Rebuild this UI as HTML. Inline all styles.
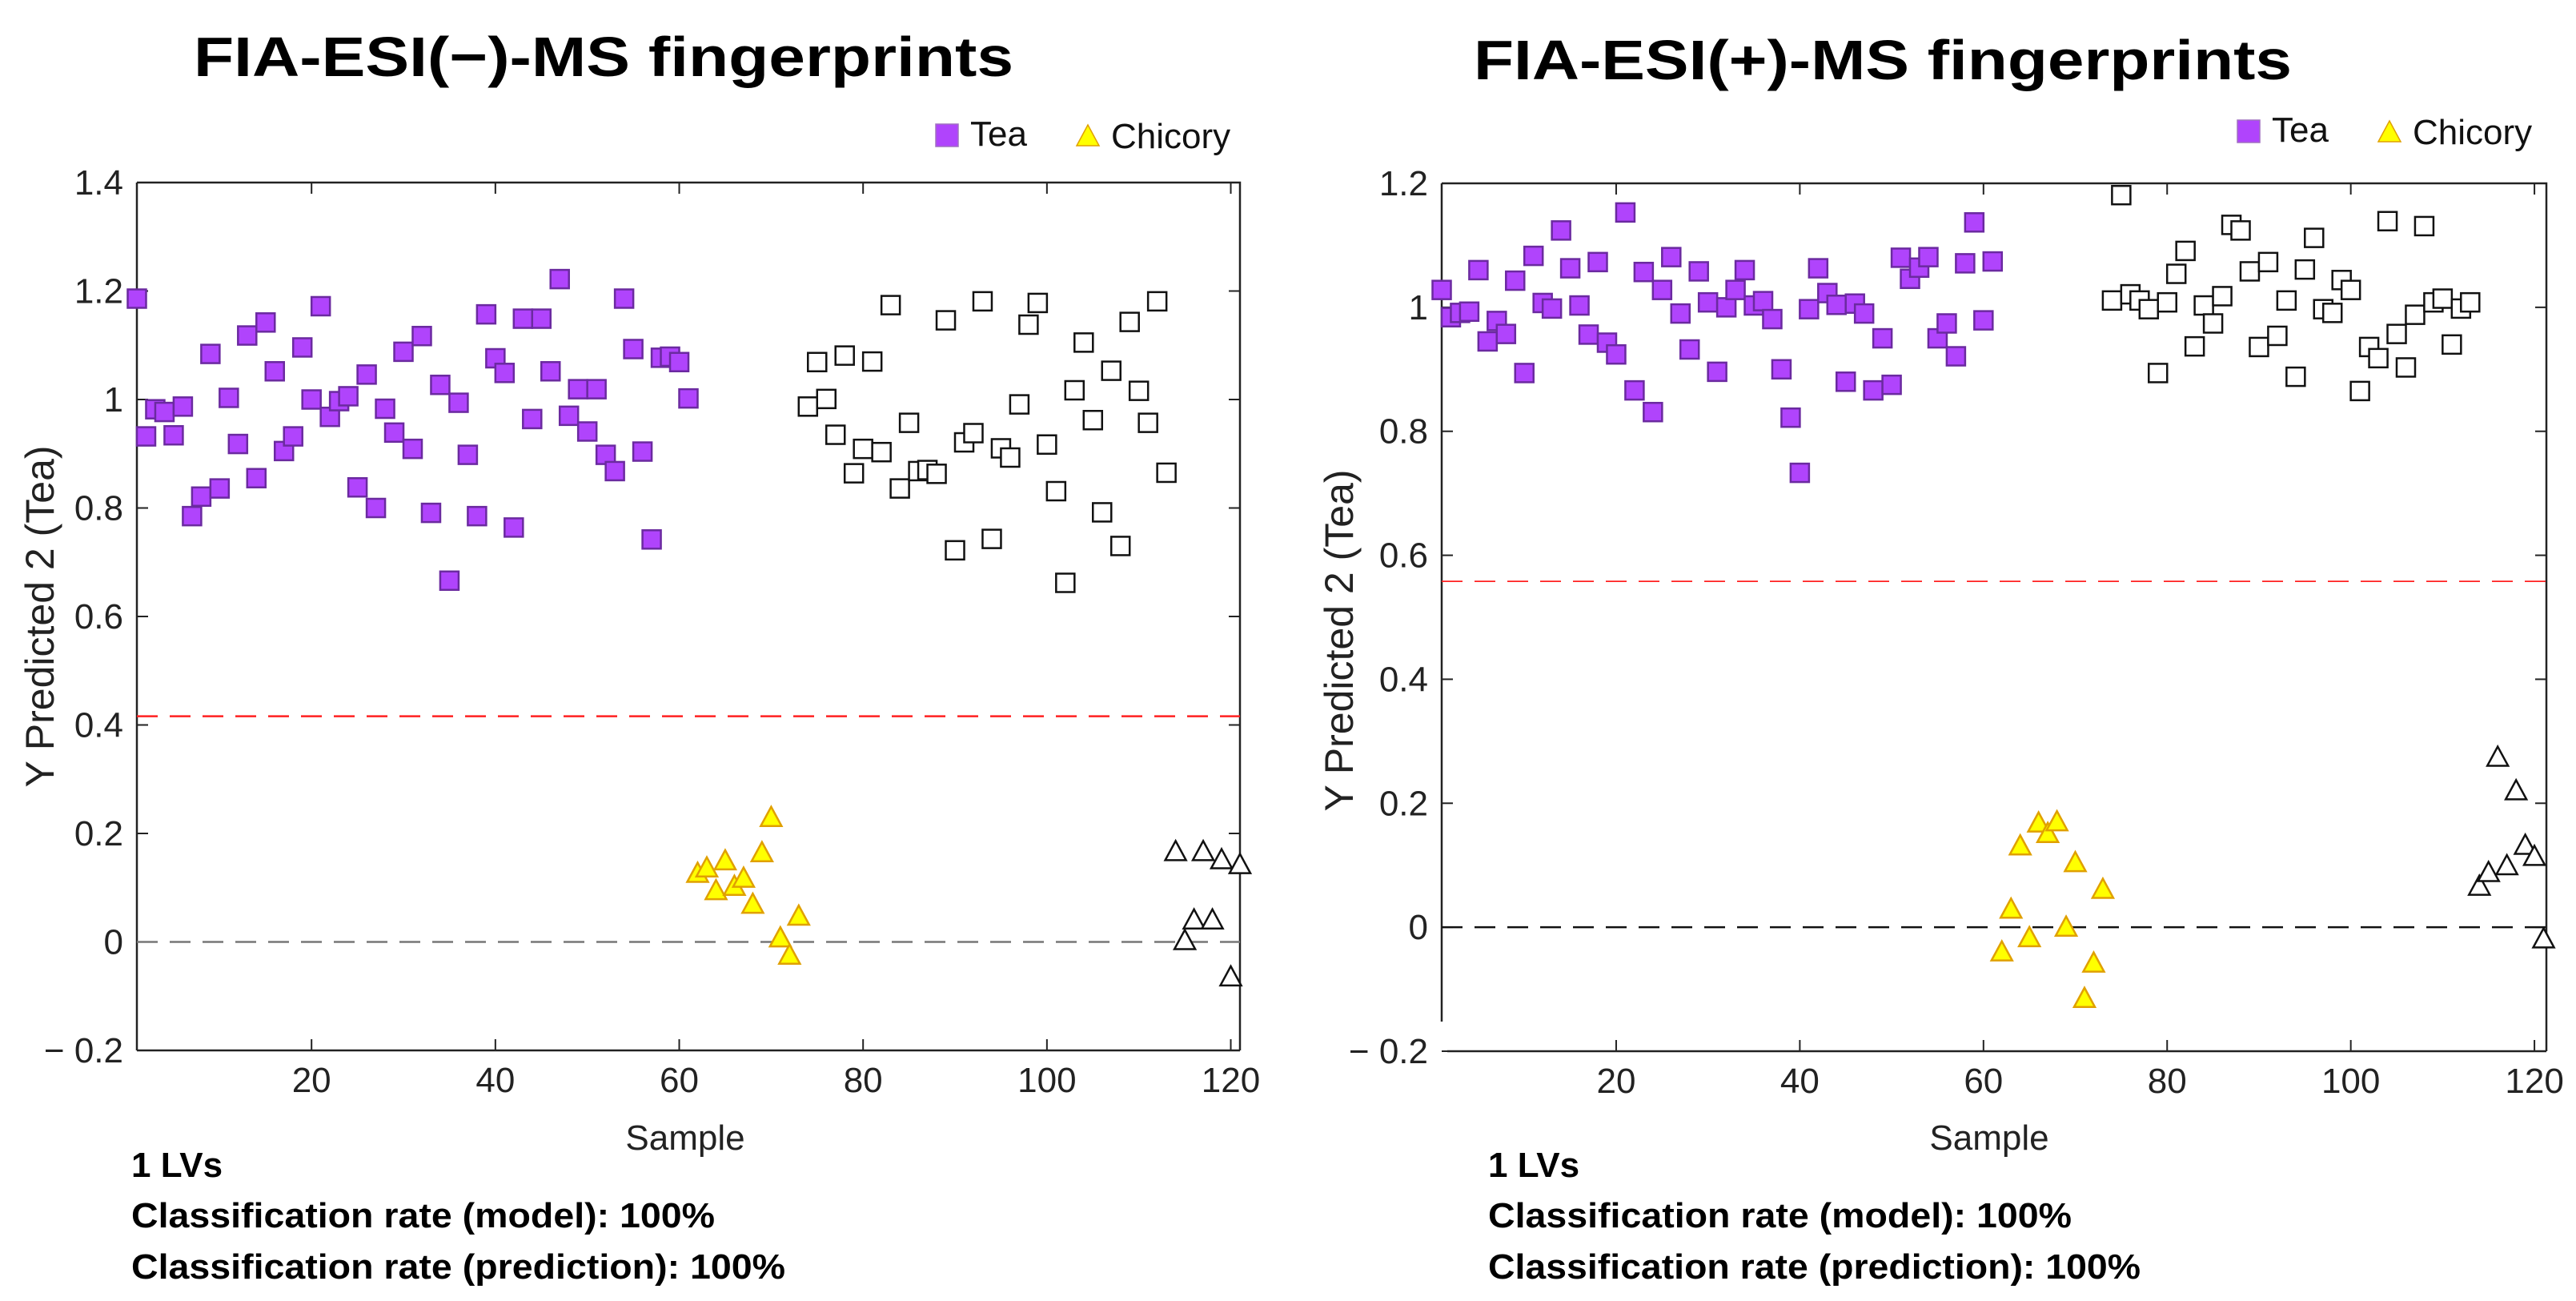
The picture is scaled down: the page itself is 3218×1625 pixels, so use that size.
<!DOCTYPE html>
<html><head><meta charset="utf-8"><style>
html,body{margin:0;padding:0;background:#fff;}
svg{display:block;}
text{font-family:"Liberation Sans",sans-serif;}
.tick{font-family:"Liberation Sans Narrow","Liberation Sans",sans-serif;font-size:44px;fill:#222;}
.bold{font-weight:bold;}
</style></head><body>
<svg id="chart" width="3218" height="1625" viewBox="0 0 3218 1625" xmlns="http://www.w3.org/2000/svg">
<text x="242" y="95" class="bold" font-size="70" textLength="1024" lengthAdjust="spacingAndGlyphs">FIA-ESI(−)-MS fingerprints</text>
<text x="1841" y="99" class="bold" font-size="70" textLength="1022" lengthAdjust="spacingAndGlyphs">FIA-ESI(+)-MS fingerprints</text>
<g id="left"></g>
<g id="right"></g>
<g class="bold" font-size="44">
<text x="164" y="1470">1 LVs</text>
<text x="164" y="1533" textLength="729" lengthAdjust="spacingAndGlyphs">Classification rate (model): 100%</text>
<text x="164" y="1597" textLength="817" lengthAdjust="spacingAndGlyphs">Classification rate (prediction): 100%</text>
</g>
<g class="bold" font-size="44">
<text x="1859" y="1470">1 LVs</text>
<text x="1859" y="1533" textLength="729" lengthAdjust="spacingAndGlyphs">Classification rate (model): 100%</text>
<text x="1859" y="1597" textLength="815" lengthAdjust="spacingAndGlyphs">Classification rate (prediction): 100%</text>
</g>
</svg>
<script>
// ---- data (sample numbers are sequential: tea-train 1..61, chicory-train 62..73, tea-test 74..113, chicory-test 114..121)
const leftTeaTrain = [1.186,0.932,0.982,0.977,0.934,0.987,0.785,0.821,1.084,0.836,1.003,0.918,1.118,0.855,1.142,1.052,0.905,0.932,1.096,1.0,1.172,0.968,0.997,1.006,0.838,1.046,0.8,0.983,0.939,1.088,0.909,1.117,0.791,1.027,0.666,0.994,0.898,0.785,1.157,1.076,1.049,0.764,1.149,0.964,1.149,1.052,1.222,0.97,1.019,0.941,1.019,0.898,0.868,1.186,1.093,0.904,0.742,1.077,1.079,1.069,1.002];
const leftChicTrain = [0.124,0.134,0.092,0.147,0.1,0.115,0.067,0.162,0.227,0.005,-0.027,0.045];
const leftTeaTest = [0.987,1.069,1.001,0.935,1.081,0.864,0.909,1.07,0.903,1.174,0.836,0.957,0.868,0.87,0.863,1.146,0.722,0.921,0.938,1.181,0.743,0.91,0.893,0.991,1.138,1.178,0.917,0.831,0.662,1.017,1.105,0.962,0.792,1.053,0.73,1.143,1.016,0.957,1.181,0.865];
const leftChicTest = [0.164,0.0,0.038,0.164,0.038,0.149,-0.067,0.14];
const leftThreshold = 0.416;
const leftYTicks = [1.4,1.2,1,0.8,0.6,0.4,0.2,0,-0.2];
const leftYTickLabels = ["1.4","1.2","1","0.8","0.6","0.4","0.2","0","− 0.2"];

const rightTeaTrain = [1.028,0.984,0.991,0.993,1.06,0.945,0.978,0.957,1.043,0.894,1.083,1.007,0.998,1.124,1.063,1.003,0.956,1.073,0.943,0.924,1.153,0.866,1.057,0.831,1.028,1.081,0.99,0.932,1.058,1.008,0.896,1.0,1.028,1.06,1.003,1.01,0.981,0.9,0.822,0.733,0.997,1.063,1.023,1.004,0.88,1.006,0.99,0.866,0.95,0.875,1.08,1.046,1.064,1.081,0.95,0.974,0.921,1.071,1.137,0.979,1.074];
const rightChicTrain = [-0.042,0.027,0.129,-0.019,0.166,0.149,0.168,-0.002,0.102,-0.117,-0.06,0.059];
const rightTeaTest = [1.011,1.181,1.021,1.011,0.997,0.894,1.008,1.054,1.091,0.937,1.003,0.974,1.018,1.133,1.124,1.058,0.936,1.073,0.954,1.011,0.888,1.061,1.112,0.997,0.991,1.044,1.028,0.865,0.936,0.918,1.139,0.957,0.903,0.988,1.131,1.008,1.014,0.94,0.998,1.008];
const rightChicTest = [0.064,0.086,0.272,0.097,0.218,0.13,0.112,-0.021];
const rightThreshold = 0.558;
const rightYTicks = [1.2,1,0.8,0.6,0.4,0.2,0,-0.2];
const rightYTickLabels = ["1.2","1","0.8","0.6","0.4","0.2","0","− 0.2"];

const xTicks = [20,40,60,80,100,120];
const xTickLabels = ["20","40","60","80","100","120"];

const NS = "http://www.w3.org/2000/svg";
function mk(tag, attrs, parent){const e=document.createElementNS(NS,tag);for(const k in attrs)e.setAttribute(k,attrs[k]);parent.appendChild(e);return e;}

function drawPanel(g, cfg){
  const L=cfg.left,R=cfg.right,T=cfg.top,B=cfg.bottom;
  const xs = s => L + (s - cfg.xmin)/(cfg.xmax - cfg.xmin)*(R-L);
  const ys = v => B - (v - cfg.ymin)/(cfg.ymax - cfg.ymin)*(B-T);
  const fr = mk('path',{d:`M${L},${T}H${R}V${B}`,fill:'none',stroke:'#222','stroke-width':2.5},g);
  
  
  const ya = mk('line',{x1:L,y1:T,x2:L,y2:cfg.yAxisEnd,stroke:'#222','stroke-width':2.5},g);
  
  
  const xa = mk('line',{x1:cfg.xAxisStart,y1:B,x2:R,y2:B,stroke:'#222','stroke-width':2.5},g);
  
  
  cfg.yTicks.forEach((v,i)=>{
    const y=ys(v);
    mk('line',{x1:L,y1:y,x2:L+14,y2:y,stroke:'#222','stroke-width':2},g);
    mk('line',{x1:R,y1:y,x2:R-14,y2:y,stroke:'#222','stroke-width':2},g);
    const t=mk('text',{x:L-17,y:y+15,'text-anchor':'end',class:'tick'},g);
    t.textContent=cfg.yLabels[i];
    
    
  });
  xTicks.forEach((s,i)=>{
    const x=xs(s);
    mk('line',{x1:x,y1:B,x2:x,y2:B-14,stroke:'#222','stroke-width':2},g);
    mk('line',{x1:x,y1:T,x2:x,y2:T+14,stroke:'#222','stroke-width':2},g);
    const t=mk('text',{x:x,y:B+52,'text-anchor':'middle',class:'tick'},g);
    t.textContent=xTickLabels[i];
    
    
  });
  const th=mk('line',{x1:L,x2:R,y1:ys(cfg.threshold),y2:ys(cfg.threshold),stroke:'#ff2020','stroke-width':cfg.redW,'stroke-dasharray':'26,15'},g);
  
  
  const zl=mk('line',{x1:L,x2:R,y1:ys(0),y2:ys(0),stroke:cfg.zeroColor,'stroke-width':2.5,'stroke-dasharray':'26,15'},g);
  
  
  const sq=(x,y,fill,stroke)=>mk('rect',{x:x-11.5,y:y-11.5,width:23,height:23,fill:fill,stroke:stroke,'stroke-width':2.5},g);
  const tri=(x,y,fill,stroke)=>mk('path',{d:`M${x},${y-15}L${x+13},${y+9}L${x-13},${y+9}Z`,fill:fill,stroke:stroke,'stroke-width':2.5},g);
  cfg.teaTrain.forEach((v,i)=>{const e=sq(xs(1+i),ys(v),'#b044fc','#6b2aa0');
    
    });
  cfg.chicTrain.forEach((v,i)=>{const e=tri(xs(62+i),ys(v),'#ffff00','#e0a000');
    
    });
  cfg.teaTest.forEach((v,i)=>{const e=sq(xs(74+i),ys(v),'#fff','#111');
    
    });
  cfg.chicTest.forEach((v,i)=>{const e=tri(xs(114+i),ys(v),'#fff','#111');
    
    });
  const yl=mk('text',{x:0,y:0,'font-size':50,fill:'#222','text-anchor':'middle',transform:`translate(${cfg.ylabX},${cfg.ylabY}) rotate(-90)`},g);
  yl.textContent='Y Predicted 2 (Tea)';
  
  
  const xl=mk('text',{x:cfg.xlabX,y:1436,'font-size':44,fill:'#222','text-anchor':'middle'},g);
  xl.textContent='Sample';
  
  
  const lg=mk('g',{},g);
  
  
  const lx=cfg.legX, ly=cfg.legY;
  const ls=mk('rect',{x:lx-14,y:ly-14,width:28,height:28,fill:'#b044fc',stroke:'#a070c0','stroke-width':1.5},lg);
  
  
  const lt=mk('text',{x:lx+29,y:ly+13,'font-size':44,fill:'#111'},lg);
  lt.textContent='Tea';
  
  
  const tx=lx+176;
  const ltr=mk('path',{d:`M${tx},${ly-13}L${tx+14},${ly+13}L${tx-14},${ly+13}Z`,fill:'#ffff00',stroke:'#e0a000','stroke-width':1.5},lg);
  
  
  const lc=mk('text',{x:tx+29,y:ly+16,'font-size':44,fill:'#111'},lg);
  lc.textContent='Chicory';
  
  
}

drawPanel(document.getElementById('left'),{
  left:171,right:1549,top:228,bottom:1312,xmin:1,xmax:121,ymin:-0.2,ymax:1.4,
  yTicks:leftYTicks,yLabels:leftYTickLabels,threshold:leftThreshold,
  teaTrain:leftTeaTrain,chicTrain:leftChicTrain,teaTest:leftTeaTest,chicTest:leftChicTest,
  yAxisEnd:1312,xAxisStart:171,redW:2.5,zeroColor:'#777',
  ylabX:67,ylabY:770,xlabX:856,legX:1183,legY:169
});
drawPanel(document.getElementById('right'),{
  left:1801,right:3181,top:229,bottom:1313,xmin:1,xmax:121.3,ymin:-0.2,ymax:1.2,
  yTicks:rightYTicks,yLabels:rightYTickLabels,threshold:rightThreshold,
  teaTrain:rightTeaTrain,chicTrain:rightChicTrain,teaTest:rightTeaTest,chicTest:rightChicTest,
  yAxisEnd:1276,xAxisStart:1808,redW:1.8,zeroColor:'#111',
  ylabX:1690,ylabY:800,xlabX:2485,legX:2809,legY:164
});
</script>
</body></html>
